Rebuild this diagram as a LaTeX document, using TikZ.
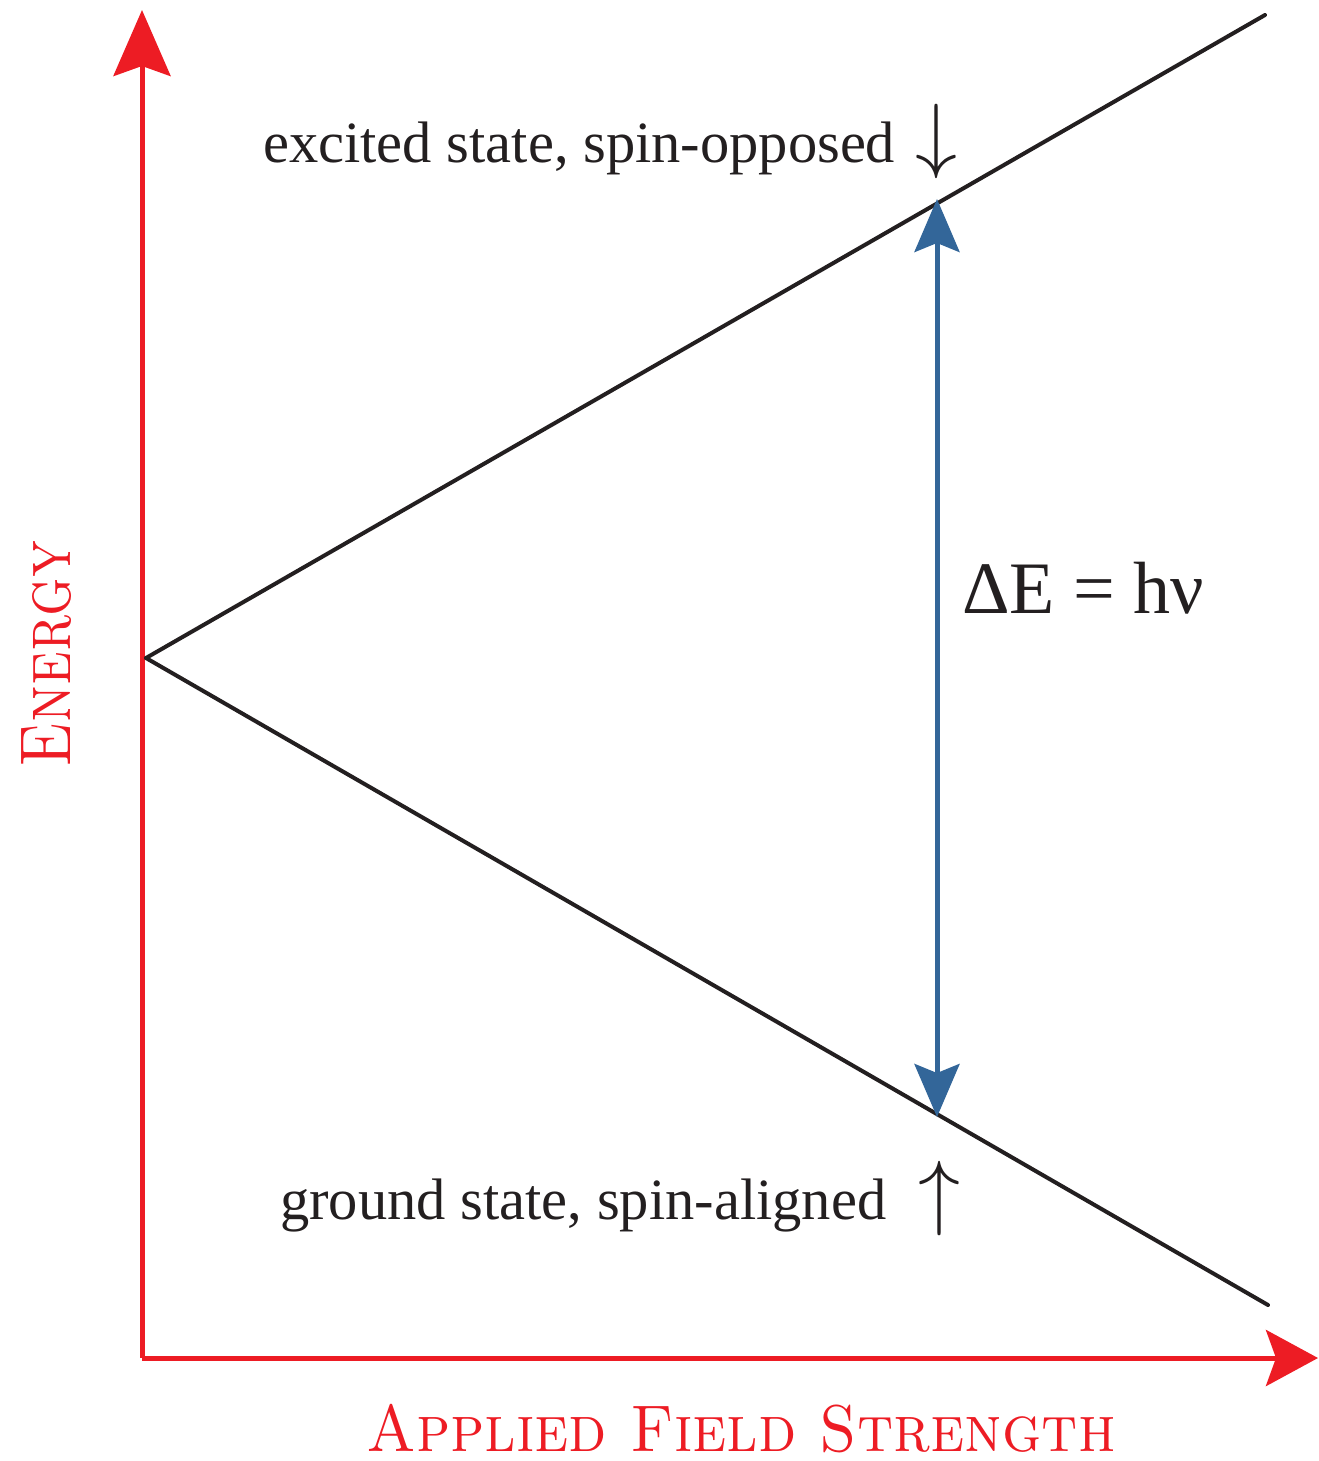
\RequirePackage{fix-cm}
\documentclass[tikz,border=0pt]{standalone}
\usepackage{fontspec}
\newfontfamily\libserif{Liberation Serif}
\usetikzlibrary{arrows.meta}
\definecolor{axred}{HTML}{ED1C24}
\definecolor{arrblue}{HTML}{336699}
\definecolor{ink}{HTML}{231F20}
\tikzset{
  axis/.style={draw=axred, line width=5pt, -{Stealth[length=66pt,width=57pt,inset=10pt]}},
  level/.style={draw=ink, line width=4pt, line cap=round},
  gap/.style={draw=arrblue, fill=arrblue, line width=5pt, {Stealth[length=53pt,width=45pt,inset=9pt]}-{Stealth[length=53pt,width=45pt,inset=9pt]}},
  statelabel/.style={text=ink, inner sep=0pt, anchor=base west, font=\libserif\fontsize{58.5}{64}\selectfont},
  axlabel/.style={text=axred, inner sep=0pt, anchor=base},
}
\newcommand{\spinarrow}[1]{{\fontsize{84}{84}\selectfont$#1$}}
\begin{document}
\begin{tikzpicture}[x=1pt,y=-1pt]
\useasboundingbox (0,0) rectangle (1318,1461);
\coordinate (O) at (142,1358);
\coordinate (ytip) at (142,10);
\coordinate (xtip) at (1318,1358);
\coordinate (V) at (146,658);
\coordinate (U) at (1265,15);
\coordinate (L) at (1268,1305);
\coordinate (gtop) at (937,199);
\coordinate (gbot) at (937,1117);
\draw[axis] (O) -- (ytip);
\draw[axis, -{Stealth[length=52pt,width=56pt,inset=10pt]}] (O) -- (xtip);
\draw[level] (V) -- (U);
\draw[level] (V) -- (L);
\draw[gap] (gbot) -- (gtop);
\node[statelabel] (exc) at (263,162) {excited state, spin-opposed\hspace{20pt}\spinarrow{\downarrow}};
\node[statelabel] (gnd) at (280,1219) {ground state, spin-aligned\hspace{32pt}\spinarrow{\uparrow}};
\node[text=ink, inner sep=0pt, anchor=base west, font=\libserif\fontsize{74}{80}\selectfont] (de) at (962,613) {ΔE = hν};
\node[axlabel, rotate=90, font=\fontsize{72}{80}\selectfont] (en) at (70,654) {\scalebox{0.84}[1]{\textsc{Energy}}};
\node[axlabel, font=\fontsize{66}{72}\selectfont] (af) at (741,1451) {\scalebox{0.93}[1]{\textsc{Applied Field Strength}}};
\end{tikzpicture}
\end{document}
